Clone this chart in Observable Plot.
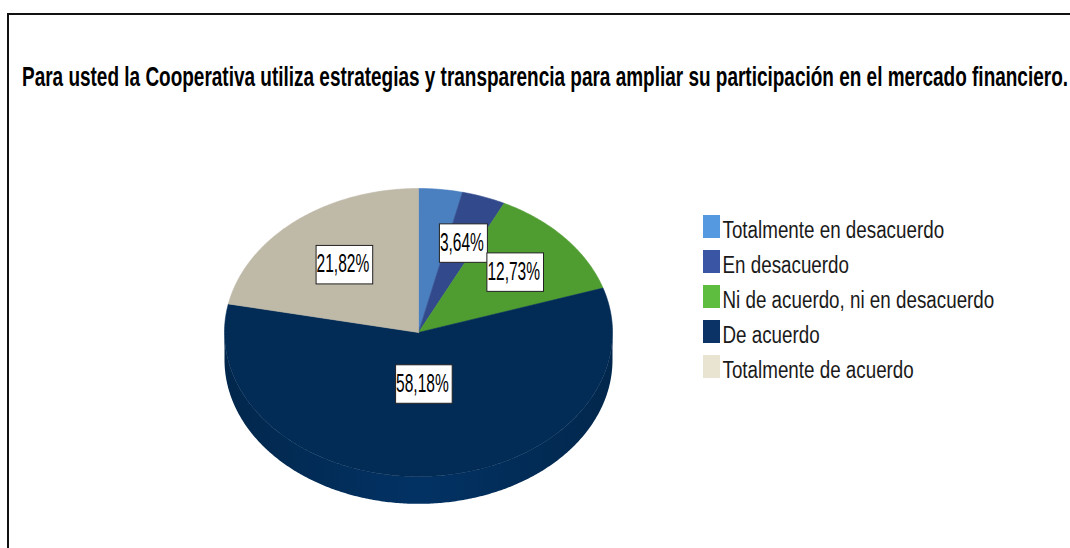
<!DOCTYPE html>
<html><head><meta charset="utf-8">
<script src="https://cdn.jsdelivr.net/npm/d3@7"></script>
<script src="https://cdn.jsdelivr.net/npm/@observablehq/plot@0.6"></script>
<style>
body{margin:0;background:#fff;}
#page{position:relative;width:1070px;height:548px;overflow:hidden;background:#fff;font-family:"Liberation Sans",Arial,sans-serif;}
#frame{position:absolute;left:7px;top:13px;right:-10px;bottom:-10px;border-top:2px solid #111;border-left:2px solid #111;}
#title{position:absolute;left:22px;top:69px;font-weight:bold;font-size:20px;line-height:20px;white-space:nowrap;color:#000;transform-origin:0 16.9px;}
#pie{position:absolute;left:0;top:0;}
#legend{position:absolute;left:703px;top:201px;}
</style></head><body>
<div id="page"><div id="frame"></div><div id="title"><span id="titletext"></span></div><div id="pie"></div><div id="legend"></div></div>
<script>
const title = "Para usted la Cooperativa utiliza estrategias y transparencia para ampliar su participación en el mercado financiero.";
const categories = ["Totalmente en desacuerdo", "En desacuerdo", "Ni de acuerdo, ni en desacuerdo", "De acuerdo", "Totalmente de acuerdo"];
const percents = [3.64, 3.64, 12.73, 58.18, 21.82];
const sliceColors = ["#4a7fc0", "#324a8c", "#4f9c30", "#022b55", "#bfb9a8"];
const legendColors = ["#5599e0", "#3b55a5", "#5ebd3f", "#0b3366", "#e9e3d2"];
const labelTexts = percents.map(p => p.toFixed(2).replace(".", ",") + "%");

const FONT = '"Liberation Sans",Arial,sans-serif';

// title: condensed to the reference's width and stretched to its height
const tspan = document.getElementById("titletext");
tspan.textContent = title;
const tw = tspan.getBoundingClientRect().width;
document.getElementById("title").style.transform = `scale(${1046 / tw},1.4)`;

// geometry of the tilted pie (unit ellipse coordinates)
const depth = 0.19;
const total = d3.sum(percents);
let acc = 0;
const slices = categories.map((c, i) => {
  const a0 = acc / total * 2 * Math.PI;
  acc += percents[i];
  const a1 = acc / total * 2 * Math.PI;
  return {c, i, a0, a1};
});
const pt = (a, r = 1, dy = 0) => ({x: r * Math.sin(a), y: r * Math.cos(a) + dy});
const arc = (a0, a1, dy = 0) => {
  const n = Math.max(2, Math.ceil(Math.abs(a1 - a0) / 0.01));
  return d3.range(n + 1).map(k => pt(a0 + (a1 - a0) * k / n, 1, dy));
};
const topPts = slices.flatMap(s => [pt(0, 0), ...arc(s.a0, s.a1), pt(0, 0)].map(p => ({...p, c: s.c})));
const sides = slices.map(s => {
  const lo = Math.max(s.a0, Math.PI / 2), hi = Math.min(s.a1, 3 * Math.PI / 2);
  if (lo >= hi) return null;
  return {s, pts: [...arc(lo, hi), ...arc(hi, lo, -depth)]};
}).filter(Boolean);
const labels = slices.map(s => {
  const half = (s.a1 - s.a0) / 2;
  const f = (2 / 3) * Math.sin(half) / half;
  return {...pt(s.a0 + half, f), text: labelTexts[s.i]};
});

const pie = Plot.plot({
  width: 1070, height: 548,
  marginLeft: 224, marginRight: 458, marginTop: 188, marginBottom: 72,
  x: {domain: [-1, 1], axis: null},
  y: {domain: [-1, 1], axis: null},
  color: {domain: categories, range: sliceColors},
  style: {background: "transparent", overflow: "visible", fontFamily: FONT},
  marks: [
    ...sides.map(sd => Plot.line(sd.pts, {x: "x", y: "y", fill: `url(#side-${sd.s.i})`, stroke: "none", curve: "linear-closed"})),
    Plot.line(topPts, {x: "x", y: "y", z: "c", fill: "c", stroke: "c", strokeWidth: 0.6, curve: "linear-closed"}),
    Plot.text(labels, {x: "x", y: "y", text: "text", fontSize: 16, fill: "#000"})
  ]
});
document.getElementById("pie").appendChild(pie);

// gradients for the visible rim
const defs = d3.select(pie).insert("defs", ":first-child");
sides.forEach(sd => {
  const base = d3.color(sliceColors[sd.s.i]);
  const g = defs.append("linearGradient").attr("id", `side-${sd.s.i}`).attr("x1", "0").attr("x2", "1").attr("y1", "0").attr("y2", "0");
  [[0, base.darker(0.3)], [0.5, base.brighter(0.45)], [1, base.darker(0.3)]].forEach(([o, c]) =>
    g.append("stop").attr("offset", o).attr("stop-color", c.formatHex()));
});

function stretchTexts(svg, sx, sy) {
  const ts = Array.from(svg.querySelectorAll('g[aria-label="text"] text'));
  ts.forEach(t => {
    let tr = t.getAttribute("transform");
    if (!tr || !tr.includes("translate")) {
      const x = t.getAttribute("x") || 0, y = t.getAttribute("y") || 0;
      t.removeAttribute("x"); t.removeAttribute("y");
      tr = `translate(${x},${y})`;
    }
    t.setAttribute("transform", tr + ` scale(${sx},${sy})`);
  });
  return ts;
}

// label boxes: stretch text, frame it, hide overlapped ones
const svgRect = pie.getBoundingClientRect();
const texts = stretchTexts(pie, 0.97, 1.65);
const boxes = texts.map(t => {
  const r = t.getBoundingClientRect();
  return {t, x0: r.left - svgRect.left - 1, x1: r.right - svgRect.left + 3, y0: r.top - svgRect.top - 3, y1: r.bottom - svgRect.top + 5};
});
const area = b => (b.x1 - b.x0) * (b.y1 - b.y0);
const ov = (a, b) => Math.max(0, Math.min(a.x1, b.x1) - Math.max(a.x0, b.x0)) * Math.max(0, Math.min(a.y1, b.y1) - Math.max(a.y0, b.y0));
boxes.forEach((b, i) => {
  b.hidden = boxes.slice(i + 1).some(o => ov(b, o) > 0.25 * Math.min(area(b), area(o)));
});
boxes.forEach(b => {
  if (b.hidden) { b.t.remove(); return; }
  const r = document.createElementNS("http://www.w3.org/2000/svg", "rect");
  r.setAttribute("x", b.x0); r.setAttribute("y", b.y0);
  r.setAttribute("width", b.x1 - b.x0); r.setAttribute("height", b.y1 - b.y0);
  r.setAttribute("fill", "#fff"); r.setAttribute("stroke", "#222"); r.setAttribute("stroke-width", 1);
  b.t.parentNode.insertBefore(r, b.t);
});

// legend
const legend = Plot.plot({
  width: 330, height: 191,
  marginLeft: 0, marginRight: 313, marginTop: 0, marginBottom: 0,
  x: {domain: ["k"], axis: null, padding: 0},
  y: {domain: categories, axis: null, padding: 0.33},
  color: {domain: categories, range: legendColors},
  style: {background: "transparent", overflow: "visible", fontFamily: FONT},
  marks: [
    Plot.cell(categories, {x: () => "k", y: d => d, fill: d => d, inset: 0}),
    Plot.text(categories, {x: () => "k", y: d => d, text: d => d, textAnchor: "start", dx: 10.5, dy: 3.5, fontSize: 19, fill: "#1a1a1a"})
  ]
});
document.getElementById("legend").appendChild(legend);
stretchTexts(legend, 0.99, 1.27);
</script>
</body></html>
